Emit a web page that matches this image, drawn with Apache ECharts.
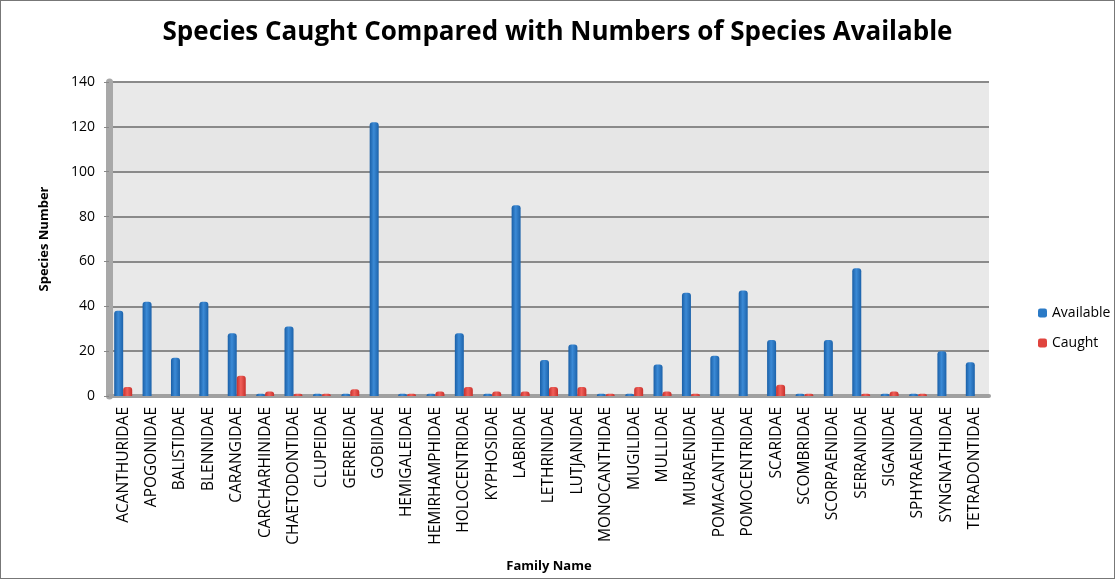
<!DOCTYPE html>
<html><head><meta charset="utf-8">
<script src="https://cdn.jsdelivr.net/npm/echarts@6/dist/echarts.min.js"></script>
<style>html,body{margin:0;padding:0;background:#fff}#c{width:1113px;height:577px;border:1px solid #777}</style>
</head><body><div id="c"></div>
<script>
const categories = ["ACANTHURIDAE","APOGONIDAE","BALISTIDAE","BLENNIDAE","CARANGIDAE","CARCHARHINIDAE","CHAETODONTIDAE","CLUPEIDAE","GERREIDAE","GOBIIDAE","HEMIGALEIDAE","HEMIRHAMPHIDAE","HOLOCENTRIDAE","KYPHOSIDAE","LABRIDAE","LETHRINIDAE","LUTJANIDAE","MONOCANTHIDAE","MUGILIDAE","MULLIDAE","MURAENIDAE","POMACANTHIDAE","POMOCENTRIDAE","SCARIDAE","SCOMBRIDAE","SCORPAENIDAE","SERRANIDAE","SIGANIDAE","SPHYRAENIDAE","SYNGNATHIDAE","TETRADONTIDAE"];
const available = [38,42,17,42,28,1,31,1,1,122,1,1,28,1,85,16,23,1,1,14,46,18,47,25,1,25,57,1,1,20,15];
const caught = [4,0,0,0,9,2,1,1,3,0,1,2,4,2,2,4,4,1,4,2,1,0,0,5,1,0,1,2,1,0,0];
const yTicks = {min:0, max:140, interval:20};

const chart = echarts.init(document.getElementById('c'));
const blueGrad = new echarts.graphic.LinearGradient(0,0,1,0,[{offset:0,color:'#1a5fa6'},{offset:0.45,color:'#3b8ad6'},{offset:1,color:'#1c62aa'}]);
const redGrad = new echarts.graphic.LinearGradient(0,0,1,0,[{offset:0,color:'#c9302c'},{offset:0.45,color:'#f0605a'},{offset:1,color:'#c8302b'}]);
chart.setOption({
  animation:false,
  title:{text:'Species Caught Compared with Numbers of Species Available',left:'center',top:14,
    textStyle:{fontFamily:'Open Sans',fontWeight:'bold',fontSize:26,color:'#000'}},
  grid:{left:108,right:125,top:81,bottom:182},
  legend:{orient:'vertical',left:1032,top:300,itemWidth:9,itemHeight:9,itemGap:16,
    textStyle:{fontFamily:'Open Sans',fontSize:14,color:'#000'},
    data:[{name:'Available',itemStyle:{color:'#2b7ac6'}},{name:'Caught',itemStyle:{color:'#e0443e'}}]},
  xAxis:{type:'category',data:categories,name:'Family Name',nameLocation:'middle',nameGap:164,
    nameTextStyle:{fontFamily:'Open Sans',fontWeight:'bold',fontSize:13,color:'#000'},
    axisLine:{lineStyle:{color:'#a0a0a0',width:4}},axisTick:{show:false},
    axisLabel:{rotate:90,interval:0,fontFamily:'Open Sans',fontSize:15.5,color:'#000',margin:11}},
  yAxis:{type:'value',min:yTicks.min,max:yTicks.max,interval:yTicks.interval,name:'Species Number',
    nameLocation:'middle',nameGap:58,nameTextStyle:{fontFamily:'Open Sans',fontWeight:'bold',fontSize:13,color:'#000'},
    axisLine:{show:true,lineStyle:{color:'#a8a8a8',width:7}},axisTick:{show:true,length:5,lineStyle:{color:'#888'}},
    axisLabel:{fontFamily:'Open Sans',fontSize:14,color:'#000',margin:14},
    splitLine:{lineStyle:{color:'#8a8a8a',width:2}},
    splitArea:{show:true,areaStyle:{color:['#e9e9e9','#e6e6e6']}}},
  series:[
    {name:'Available',type:'bar',data:available,barWidth:9,barGap:'0%',itemStyle:{color:blueGrad,borderRadius:[3,3,0,0]}},
    {name:'Caught',type:'bar',data:caught,barWidth:9,itemStyle:{color:redGrad,borderRadius:[3,3,0,0]}}
  ]
});
</script></body></html>
